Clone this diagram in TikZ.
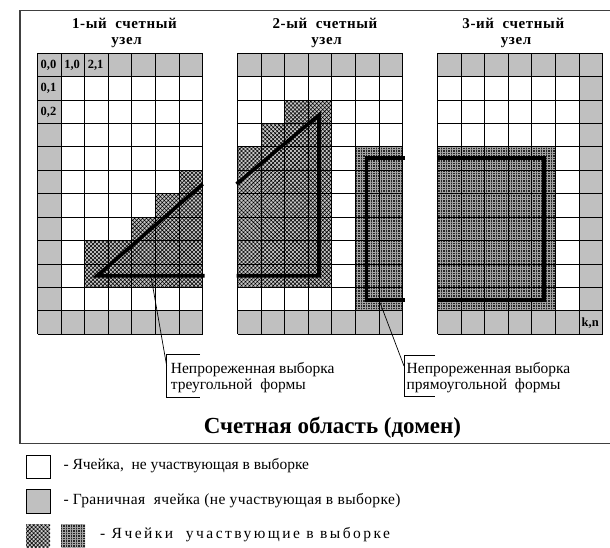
\documentclass[tikz,border=0pt]{standalone}
\usepackage{fontspec}
\setmainfont{Liberation Serif}
\newfontfamily\titlefont[LetterSpace=4]{Liberation Serif}
\newfontfamily\legtwofont[LetterSpace=2.5]{Liberation Serif}
\newfontfamily\legthreefont[LetterSpace=16]{Liberation Serif}
\usetikzlibrary{patterns.meta}
\definecolor{cellgray}{HTML}{C0C0C0}
\tikzset{
  gcell/.style={fill=cellgray},
  xhatch/.style={preaction={fill=gray!45}, pattern={Hatch[angle=45,distance=2.8pt,line width=0.55pt]}, pattern color=black},
  fgrid/.style={preaction={fill=black!85}, pattern={Hatch[angle=0,distance=2.5pt,line width=0.3pt]}, pattern color=white!65!black},
  gridline/.style={line width=1pt, black},
  boldline/.style={line width=3.6pt, black, line join=miter},
  nodetitle/.style={anchor=base, inner sep=0pt, font=\titlefont\bfseries\fontsize{15}{16}\selectfont},
  celllabel/.style={anchor=west, inner sep=0pt, font=\bfseries\fontsize{12.5}{13}\selectfont},
  labtext/.style={anchor=base west, inner sep=0pt, font=\fontsize{15.5}{16}\selectfont},
  legtext/.style={anchor=base west, inner sep=0pt, font=\fontsize{15.5}{16}\selectfont},
  leader/.style={line width=0.7pt, black},
  legbox/.style={draw=black, line width=0.8pt},
}
\begin{document}
\begin{tikzpicture}[x=1pt, y=-1pt]
\useasboundingbox (0,0) rectangle (610,547);
% outer frame
\draw[line width=1.2pt, black!75] (615,10.7) -- (20,10.7) -- (20,443.3) -- (615,443.3);

% ---------- grid 1 ----------
\begin{scope}[shift={(37.7,53.3)}, x=23.57pt, y=-23.42pt]
  \foreach \c in {0,...,6} {\fill[gcell] (\c,0) rectangle ++(1,1); \fill[gcell] (\c,11) rectangle ++(1,1);}
  \foreach \r in {1,...,10} \fill[gcell] (0,\r) rectangle ++(1,1);
  \path[xhatch] (6,5) -- (7,5) -- (7,10) -- (2,10) -- (2,8) -- (4,8) -- (4,7) -- (5,7) -- (5,6) -- (6,6) -- cycle;
  \foreach \c in {0,...,7} \draw[gridline] (\c,0) -- (\c,12);
  \foreach \r in {0,...,12} \draw[gridline] (0,\r) -- (7,\r);
  \draw[boldline] (7.08,9.5) -- (2.52,9.5) -- (7,5.58);
  \node[celllabel] (l00) at (0.12,0.5) {0,0};
  \node[celllabel] (l10) at (1.12,0.5) {1,0};
  \node[celllabel] (l21) at (2.12,0.5) {2,1};
  \node[celllabel] (l01) at (0.12,1.5) {0,1};
  \node[celllabel] (l02) at (0.12,2.5) {0,2};
  \coordinate (lead1) at (4.82,9.6);
\end{scope}

% ---------- grid 2 ----------
\begin{scope}[shift={(237.7,53.3)}, x=23.57pt, y=-23.42pt]
  \foreach \c in {0,...,6} {\fill[gcell] (\c,0) rectangle ++(1,1); \fill[gcell] (\c,11) rectangle ++(1,1);}
  \path[xhatch] (2,2) -- (4,2) -- (4,10) -- (0,10) -- (0,4) -- (1,4) -- (1,3) -- (2,3) -- cycle;
  \path[fgrid] (5,4) rectangle (7,11);
  \foreach \c in {0,...,7} \draw[gridline] (\c,0) -- (\c,12);
  \foreach \r in {0,...,12} \draw[gridline] (0,\r) -- (7,\r);
  \draw[boldline] (-0.05,5.58) -- (3.45,2.63) -- (3.45,9.5) -- (-0.05,9.5);
  \draw[boldline] (7.08,4.48) -- (5.47,4.48) -- (5.47,10.53) -- (7.08,10.53);
  \coordinate (lead2) at (6.04,10.65);
\end{scope}

% ---------- grid 3 ----------
\begin{scope}[shift={(437.7,53.3)}, x=23.57pt, y=-23.42pt]
  \foreach \c in {0,...,6} {\fill[gcell] (\c,0) rectangle ++(1,1); \fill[gcell] (\c,11) rectangle ++(1,1);}
  \foreach \r in {1,...,10} \fill[gcell] (6,\r) rectangle ++(1,1);
  \path[fgrid] (0,4) rectangle (5,11);
  \foreach \c in {0,...,7} \draw[gridline] (\c,0) -- (\c,12);
  \foreach \r in {0,...,12} \draw[gridline] (0,\r) -- (7,\r);
  \draw[boldline] (-0.05,4.48) -- (4.51,4.48) -- (4.51,10.53) -- (-0.05,10.53);
  \node[celllabel] (lkn) at (6.1,11.5) {k,n};
\end{scope}

% titles
\node[nodetitle] (t1a) at (124.5,28.3) {1-ый\ \ счетный};
\node[nodetitle] (t1b) at (126.5,44) {узел};
\node[nodetitle] (t2a) at (325,28.3) {2-ый\ \ счетный};
\node[nodetitle] (t2b) at (326.5,44) {узел};
\node[nodetitle] (t3a) at (513.3,28.3) {3-ий\ \ счетный};
\node[nodetitle] (t3b) at (516,44) {узел};

% callout 1
\node[labtext] (c1a) at (170.7,373.3) {Непрореженная выборка};
\node[labtext] (c1b) at (170.7,389.3) {треугольной\ \ формы};
\coordinate (b1t) at (166.7,354);
\coordinate (b1b) at (166.7,397.3);
\coordinate (b1m) at (166.7,366);
\draw[leader] (200,354) -- (b1t) -- (b1b) -- (200,397.3);
\draw[leader] (lead1) -- (b1m);

% callout 2
\node[labtext] (c2a) at (406.5,373.3) {Непрореженная выборка};
\node[labtext] (c2b) at (406.5,389.3) {прямоугольной\ \ формы};
\coordinate (b2t) at (404,355);
\coordinate (b2b) at (404,396.7);
\coordinate (b2m) at (404,366);
\draw[leader] (435,355) -- (b2t) -- (b2b) -- (435,396.7);
\draw[leader] (lead2) -- (b2m);

% main title
\node[anchor=base, inner sep=0pt, font=\bfseries\fontsize{23}{26}\selectfont] (dom) at (332.5,433.3) {Счетная область (домен)};

% legend
\path[legbox, fill=white] (26,455) rectangle (50,478.3);
\node[legtext] (leg1) at (63.3,469.5) {- Ячейка,\ \ не участвующая в выборке};
\path[legbox, fill=cellgray] (26,489.3) rectangle (50,513.3);
\node[legtext] (leg2) at (63.3,504.5) {\legtwofont - Граничная\ \ ячейка (не участвующая в выборке)};
\path[xhatch] (26,524) rectangle (50,547);
\path[fgrid] (61,524) rectangle (85,547);
\node[legtext] (leg3) at (100,538) {\legthreefont - Ячейки\ \ участвующие в выборке};
\end{tikzpicture}
\end{document}
